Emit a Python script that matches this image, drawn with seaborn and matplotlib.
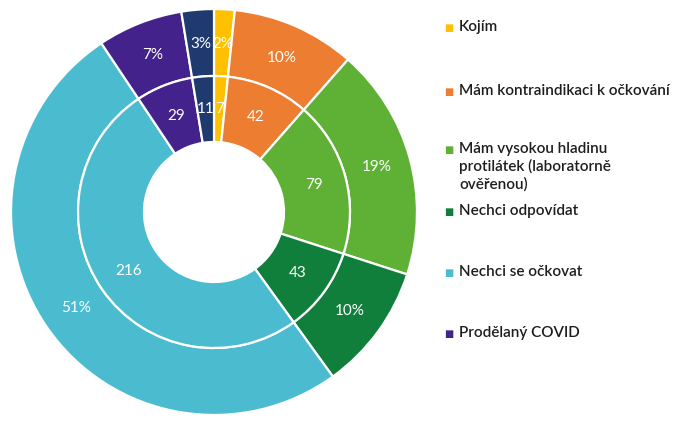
import matplotlib
matplotlib.use("Agg")
import matplotlib.pyplot as plt
import seaborn as sns

# answers to the survey question, in the order the slices go round
categories = ["Kojím", "Mám kontraindikaci k očkování",
              "Mám vysokou hladinu\nprotilátek (laboratorně\nověřenou)",
              "Nechci odpovídat", "Nechci se očkovat", "Prodělaný COVID", ""]
counts = [7, 42, 79, 43, 216, 29, 11]
colors = ["#FFC000", "#ED7D31", "#5EB134", "#0F7F3B", "#4BBCD0", "#44228C", "#1F3A6E"]

sns.set_theme(style="white")
plt.rcParams["font.family"] = ["Lato", "DejaVu Sans"]

fig = plt.figure(figsize=(6.86, 4.25), dpi=100)
ax = fig.add_axes([4 / 686, 8 / 425, 420 / 686, 410 / 425])
total = sum(counts)
edge = dict(edgecolor="white", linewidth=1.6)

# outer ring: shares in percent
ax.pie(counts, radius=1.0, colors=colors, startangle=90, counterclock=False,
       wedgeprops=dict(width=0.33, **edge), autopct="%.0f%%", pctdistance=0.83,
       textprops=dict(color="white", fontsize=11))
# inner ring: raw counts
ax.pie(counts, radius=0.67, colors=colors, startangle=90, counterclock=False,
       wedgeprops=dict(width=0.325, **edge),
       autopct=lambda p: f"{round(p * total / 100)}", pctdistance=0.76,
       textprops=dict(color="white", fontsize=11))
ax.set_xlim(-1.01, 1.01)
ax.set_ylim(-1.01, 1.01)

# legend drawn by hand, Excel-style uneven spacing
legend_y = [28, 92, 150, 212, 273, 334]
for lab, col, y in zip(categories[:6], colors[:6], legend_y):
    fig.text(444 / 686, 1 - y / 425, "■", color=col, fontsize=7,
             va="center", ha="left", family="DejaVu Sans")
    fig.text(459 / 686, 1 - (y - 8) / 425, lab, color="#1E1E1E", fontsize=11,
             va="top", ha="left", linespacing=1.25, fontweight="semibold")

fig.savefig("out.png", dpi=100)
